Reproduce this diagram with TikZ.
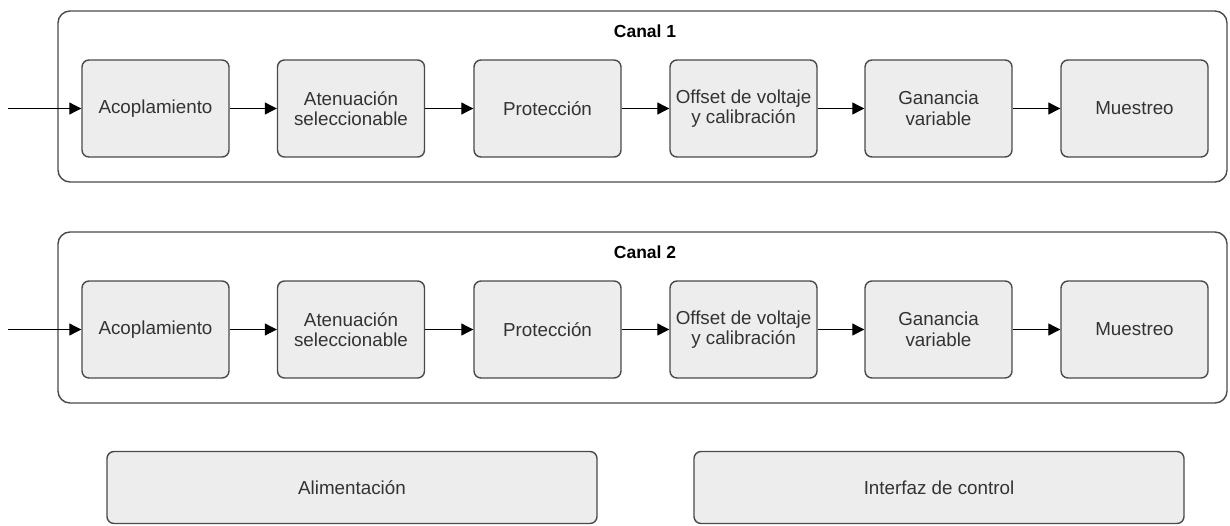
\documentclass[tikz,border=0pt]{standalone}
\usepackage{fontspec}
\setmainfont{Liberation Sans}
\usetikzlibrary{arrows.meta}
\definecolor{boxfill}{HTML}{EDEDED}
\definecolor{boxline}{HTML}{4A4A4A}
\definecolor{txt}{HTML}{333333}
\tikzset{
  stage/.style={draw=boxline, line width=1.4pt, fill=boxfill, rounded corners=7pt,
    minimum width=147pt, minimum height=97pt, inner sep=0pt, align=center,
    text=txt, font=\fontsize{18.8}{20.5}\selectfont},
  wide/.style={stage, minimum width=490pt, minimum height=72pt},
  channel/.style={draw=boxline, line width=1.4pt, rounded corners=12pt},
  chlabel/.style={text=black, font=\bfseries\fontsize{17.5}{20}\selectfont},
  flow/.style={draw=black, line width=1.1pt, -{Triangle[length=12pt,width=12pt]}}
}
\begin{document}
\begin{tikzpicture}[x=1pt,y=-1pt]
\useasboundingbox (0,0) rectangle (1230,525);

% channel frames
\draw[channel] (58,11) rectangle (1227,182);
\draw[channel] (58,232) rectangle (1227,403);
\node[chlabel] (c1) at (645,31) {Canal 1};
\node[chlabel] (c2) at (645,252) {Canal 2};

% stages of both channels
\foreach \ch/\yy in {1/108.5, 2/329.5}{
  \coordinate (in\ch) at (8,\yy);
  \node[stage] (a\ch) at (155.5,\yy) {Acoplamiento};
  \node[stage] (b\ch) at (351,\yy) {Atenuación\\seleccionable};
  \node[stage] (p\ch) at (547.5,\yy) {Protección};
  \node[stage] (o\ch) at (743.5,\yy) {Offset de voltaje\\y calibración};
  \node[stage] (g\ch) at (938.5,\yy) {Ganancia\\variable};
  \node[stage] (m\ch) at (1134.5,\yy) {Muestreo};
  \draw[flow] (in\ch) -- (a\ch);
  \draw[flow] (a\ch) -- (b\ch);
  \draw[flow] (b\ch) -- (p\ch);
  \draw[flow] (p\ch) -- (o\ch);
  \draw[flow] (o\ch) -- (g\ch);
  \draw[flow] (g\ch) -- (m\ch);
}

% shared blocks
\node[wide] (pwr) at (352,487.5) {Alimentación};
\node[wide] (ctl) at (939,487.5) {Interfaz de control};
\end{tikzpicture}
\end{document}
